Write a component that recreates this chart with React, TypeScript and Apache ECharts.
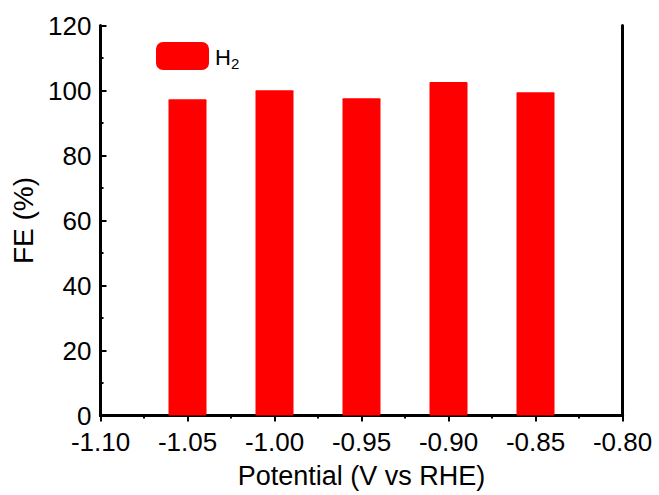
import React, { useEffect, useRef } from "react";
import * as echarts from "echarts";

// Applied potential (V vs RHE) and Faradaic efficiency of H2 (%)
const potentials = [-1.05, -1.0, -0.95, -0.9, -0.85];
const feH2 = [97.3, 100.1, 97.6, 102.6, 99.5];
const xTicks = [-1.1, -1.05, -1.0, -0.95, -0.9, -0.85, -0.8];

const FONT = "Arial, 'Liberation Sans', sans-serif";

export default function App() {
  const ref = useRef<HTMLDivElement>(null);

  useEffect(() => {
    if (!ref.current) return;
    const chart = echarts.init(ref.current, null, { renderer: "svg" });
    const axisLine = { show: true, lineStyle: { color: "#000", width: 3 } };
    chart.setOption({
      animation: false,
      backgroundColor: "#fff",
      grid: { left: 100.5, top: 25.5, right: 36.5, bottom: 79.5 },
      legend: {
        left: 156,
        top: 42,
        padding: 0,
        icon: "roundRect",
        itemWidth: 53,
        itemHeight: 28,
        data: ["H2"],
        formatter: () => "",
      },
      // legend label with a subscript
      graphic: [
        {
          type: "text",
          left: 215,
          top: 44,
          style: {
            text: "{a|H}{b|2}",
            fill: "#000",
            rich: {
              a: { fontSize: 22, fontFamily: FONT, fill: "#000", lineHeight: 24 },
              b: { fontSize: 15, fontFamily: FONT, fill: "#000", padding: [12, 0, 0, 0], lineHeight: 24 },
            },
          },
        },
      ],
      xAxis: [
        {
          type: "value",
          min: -1.1,
          max: -0.8,
          interval: 0.05,
          position: "bottom",
          name: "Potential (V vs RHE)",
          nameLocation: "middle",
          nameGap: 47,
          nameTextStyle: { fontFamily: FONT, fontSize: 27, color: "#000" },
          axisLine,
          axisTick: { show: true, inside: false, length: 6, lineStyle: { color: "#000", width: 2 } },
          minorTick: { show: true, splitNumber: 2, length: 3, lineStyle: { color: "#000", width: 2 } },
          axisLabel: {
            margin: 14,
            fontFamily: FONT,
            fontSize: 26,
            lineHeight: 24,
            color: "#000",
            formatter: (v: number) => {
              const t = xTicks.find((x) => Math.abs(x - v) < 1e-6);
              return (t ?? v).toFixed(2);
            },
          },
          splitLine: { show: false },
        },
        {
          type: "value",
          min: -1.1,
          max: -0.8,
          position: "top",
          axisLine,
          axisTick: { show: false },
          axisLabel: { show: false },
          splitLine: { show: false },
        },
      ],
      yAxis: [
        {
          type: "value",
          min: 0,
          max: 120,
          interval: 20,
          name: "FE (%)",
          nameLocation: "middle",
          nameGap: 61,
          nameTextStyle: { fontFamily: FONT, fontSize: 28, color: "#000" },
          axisLine,
          axisTick: { show: true, inside: true, length: 6, lineStyle: { color: "#000", width: 2 } },
          minorTick: { show: true, splitNumber: 2, length: 3, lineStyle: { color: "#000", width: 2 } },
          axisLabel: { margin: 9, fontFamily: FONT, fontSize: 26, lineHeight: 19, color: "#000" },
          splitLine: { show: false },
        },
        {
          type: "value",
          min: 0,
          max: 120,
          position: "right",
          axisLine,
          axisTick: { show: false },
          axisLabel: { show: false },
          splitLine: { show: false },
        },
      ],
      series: [
        {
          name: "H2",
          type: "bar",
          barWidth: 38,
          itemStyle: { color: "#ff0000", borderRadius: 1 },
          data: potentials.map((p, i) => [p, feH2[i]]),
        },
      ],
    });
    return () => chart.dispose();
  }, []);

  return (
    <div
      ref={ref}
      style={{ position: "fixed", left: 0, top: 0, width: 659, height: 495 }}
    />
  );
}
